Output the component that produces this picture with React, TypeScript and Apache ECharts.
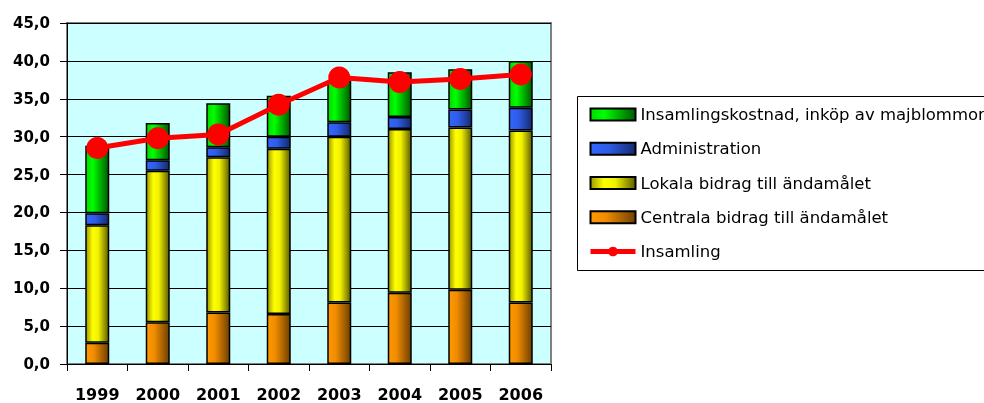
import React, { useEffect, useRef } from "react";
import * as echarts from "echarts";

const years = ["1999", "2000", "2001", "2002", "2003", "2004", "2005", "2006"];
const centrala = [2.8, 5.5, 6.8, 6.6, 8.1, 9.4, 9.8, 8.1];
const lokala = [15.5, 20.0, 20.5, 21.8, 21.9, 21.6, 21.4, 22.7];
const administration = [1.6, 1.4, 1.3, 1.6, 1.9, 1.6, 2.4, 3.0];
const insamlingskostnad = [8.9, 4.9, 5.8, 5.4, 5.5, 5.9, 5.3, 6.2];
const insamling = [28.5, 29.8, 30.3, 34.2, 37.8, 37.2, 37.6, 38.2];

const names = {
  green: "Insamlingskostnad, inköp av majblommor",
  blue: "Administration",
  yellow: "Lokala bidrag till ändamålet",
  orange: "Centrala bidrag till ändamålet",
  line: "Insamling",
};

const FONT = "DejaVu Sans";

function grad(stops: [number, string][]) {
  return new echarts.graphic.LinearGradient(
    0,
    0,
    1,
    0,
    stops.map(([offset, color]) => ({ offset, color }))
  );
}

export default function App() {
  const ref = useRef<HTMLDivElement>(null);
  useEffect(() => {
    if (!ref.current) return;
    const chart = echarts.init(ref.current, undefined, { renderer: "svg" });
    const barCommon = {
      type: "bar" as const,
      stack: "total",
      barWidth: 24,
      z: 2,
    };
    chart.setOption({
      animation: false,
      textStyle: { fontFamily: FONT },
      grid: {
        left: 67,
        top: 23,
        right: 433,
        bottom: 39,
        show: true,
        backgroundColor: "#ccffff",
        borderColor: "#808080",
        borderWidth: 2,
      },
      graphic: [
        {
          type: "rect",
          left: 577,
          top: 96,
          shape: { width: 500, height: 174 },
          style: { fill: "#ffffff", stroke: "#000000", lineWidth: 1 },
          z: -1,
        },
      ],
      legend: {
        orient: "vertical",
        left: 588,
        top: 106,
        padding: 0,
        itemWidth: 45,
        itemHeight: 12,
        itemGap: 17.25,
        itemTextGap: 7,
        textStyle: { fontFamily: FONT, fontSize: 16.5, color: "#000", lineHeight: 16 },
        data: [
          { name: names.green, icon: "rect" },
          { name: names.blue, icon: "rect" },
          { name: names.yellow, icon: "rect" },
          { name: names.orange, icon: "rect" },
          { name: names.line, lineStyle: { width: 5 } },
        ],
      },
      xAxis: {
        type: "category",
        data: years,
        boundaryGap: true,
        axisLine: { show: true, lineStyle: { color: "#000", width: 1 } },
        axisTick: { show: true, alignWithLabel: false, length: 7, lineStyle: { color: "#000" } },
        axisLabel: {
          fontFamily: FONT,
          fontSize: 16,
          fontWeight: "bold",
          color: "#000",
          margin: 22,
        },
        splitLine: { show: false },
      },
      yAxis: {
        type: "value",
        min: 0,
        max: 45,
        interval: 5,
        axisLine: { show: true, lineStyle: { color: "#000", width: 1 } },
        axisTick: { show: true, length: 7, lineStyle: { color: "#000" } },
        axisLabel: {
          fontFamily: FONT,
          fontSize: 15,
          fontWeight: "bold",
          color: "#000",
          margin: 17,
          formatter: (v: number) => v.toFixed(1).replace(".", ","),
        },
        splitLine: { show: true, lineStyle: { color: "#000", width: 1 } },
      },
      series: [
        {
          ...barCommon,
          name: names.orange,
          data: centrala,
          itemStyle: {
            color: grad([
              [0, "#ff9900"],
              [0.35, "#f08c00"],
              [1, "#6e4000"],
            ]),
            borderColor: "#000",
            borderWidth: 1.5,
          },
        },
        {
          ...barCommon,
          name: names.yellow,
          data: lokala,
          itemStyle: {
            color: grad([
              [0, "#9a9a00"],
              [0.3, "#ffff00"],
              [0.55, "#f0f000"],
              [1, "#5e5e00"],
            ]),
            borderColor: "#000",
            borderWidth: 1.5,
          },
        },
        {
          ...barCommon,
          name: names.blue,
          data: administration,
          itemStyle: {
            color: grad([
              [0, "#3366ff"],
              [0.4, "#2e5ce6"],
              [1, "#142a70"],
            ]),
            borderColor: "#000",
            borderWidth: 1.5,
          },
        },
        {
          ...barCommon,
          name: names.green,
          data: insamlingskostnad,
          itemStyle: {
            color: grad([
              [0, "#00d800"],
              [0.3, "#00ff00"],
              [1, "#005a00"],
            ]),
            borderColor: "#000",
            borderWidth: 1.5,
          },
        },
        {
          type: "line",
          name: names.line,
          data: insamling,
          z: 5,
          symbol: "circle",
          symbolSize: 22,
          lineStyle: { color: "#ff0000", width: 5 },
          itemStyle: { color: "#ff0000" },
        },
      ],
    });
    return () => chart.dispose();
  }, []);
  return (
    <div
      ref={ref}
      style={{ position: "fixed", left: 0, top: 0, width: 984, height: 403 }}
    />
  );
}
